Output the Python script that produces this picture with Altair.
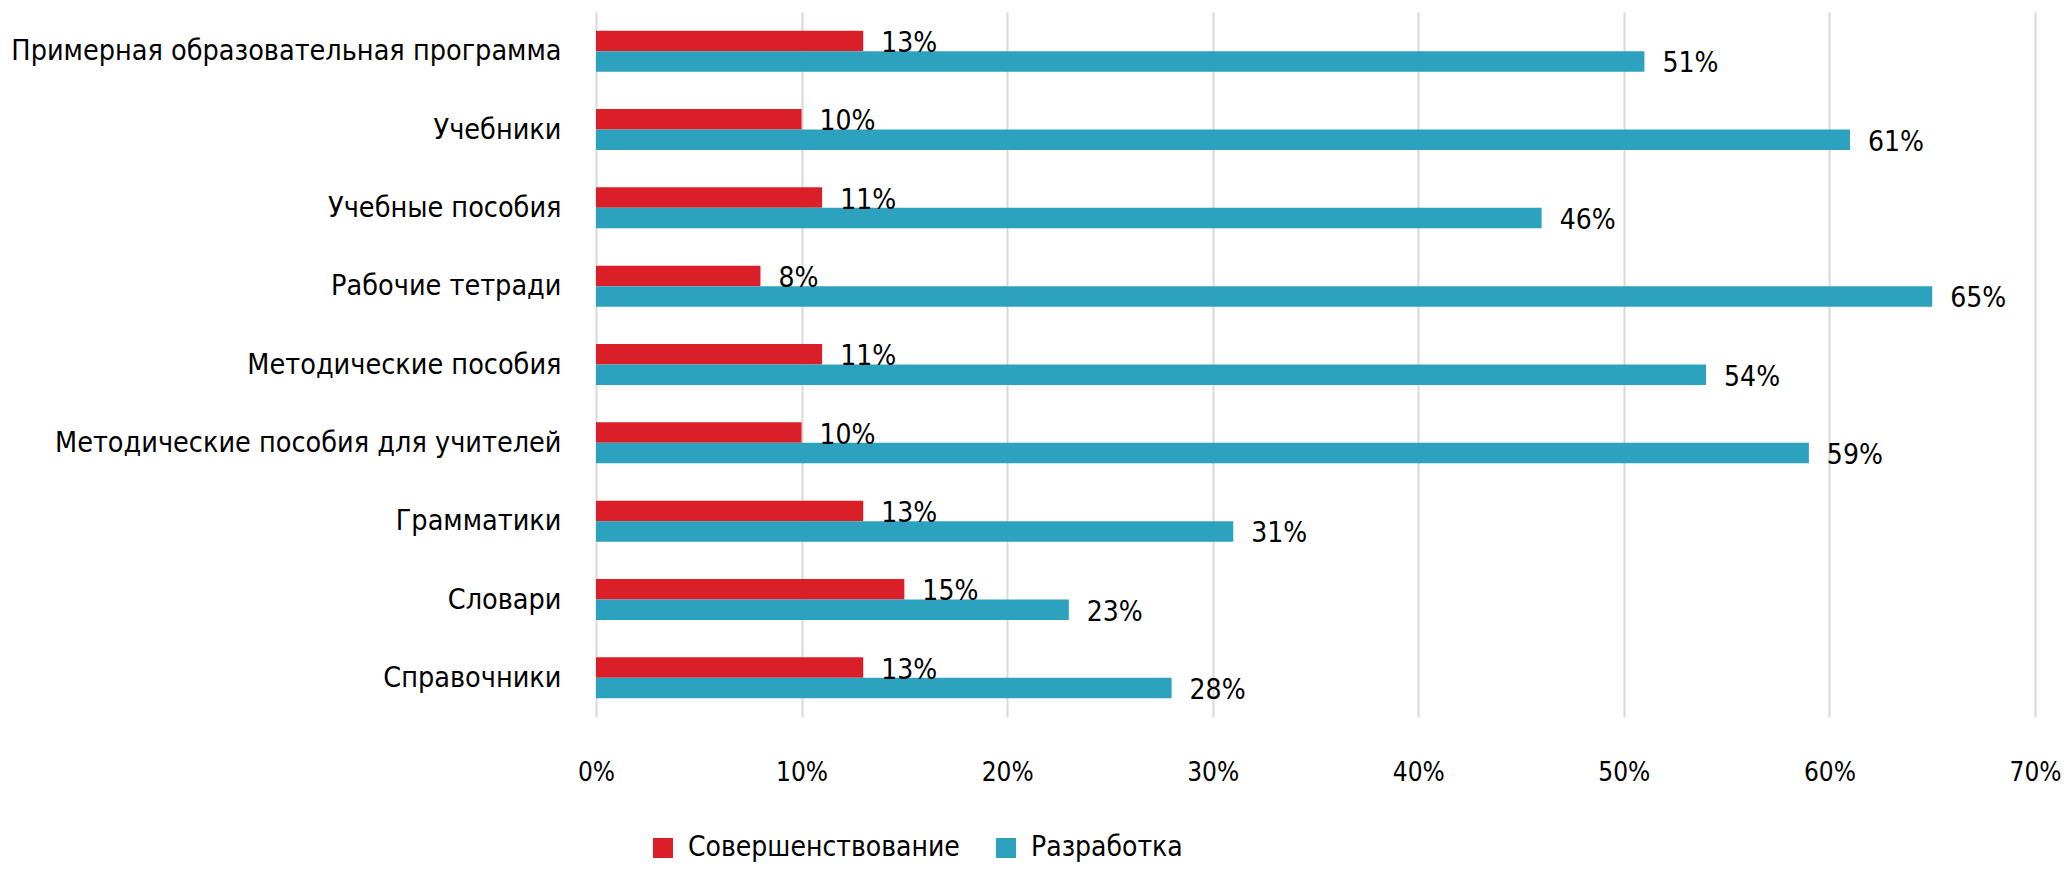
import altair as alt
import pandas as pd

categories = [
    "Примерная образовательная программа",
    "Учебники",
    "Учебные пособия",
    "Рабочие тетради",
    "Методические пособия",
    "Методические пособия для учителей",
    "Грамматики",
    "Словари",
    "Справочники",
]
series = ["Совершенствование", "Разработка"]
improve = [13, 10, 11, 8, 11, 10, 13, 15, 13]
develop = [51, 61, 46, 65, 54, 59, 31, 23, 28]
colors = ["#DA1F28", "#2DA2BF"]

rows = []
for c, a, b in zip(categories, improve, develop):
    rows.append({"cat": c, "series": series[0], "value": a / 100, "label": f"{a}%"})
    rows.append({"cat": c, "series": series[1], "value": b / 100, "label": f"{b}%"})
df = pd.DataFrame(rows)

FONT = "DejaVu Sans Condensed"

y_enc = alt.Y(
    "cat:N",
    sort=categories,
    scale=alt.Scale(paddingInner=0.476, paddingOuter=0.238),
    axis=alt.Axis(
        title=None, ticks=False, domain=False, labelFontSize=28.5,
        labelPadding=35, labelLimit=1000, labelColor="#000000", labelFont=FONT,
    ),
)
yoff = alt.YOffset("series:N", sort=series, scale=alt.Scale(paddingInner=0, paddingOuter=0))
x_enc = alt.X(
    "value:Q",
    scale=alt.Scale(domain=[0, 0.7]),
    axis=alt.Axis(
        title=None, format=".0%", values=[0, 0.1, 0.2, 0.3, 0.4, 0.5, 0.6, 0.7],
        ticks=False, domain=False, grid=True, gridColor="#D9D9D9", gridWidth=2,
        labelFontSize=26, labelPadding=42, labelColor="#000000", labelFont=FONT,
        labelFlush=False,
    ),
)

bars = alt.Chart(df).mark_bar().encode(
    y=y_enc,
    yOffset=yoff,
    x=x_enc,
    color=alt.Color(
        "series:N",
        sort=series,
        scale=alt.Scale(domain=series, range=colors),
        legend=alt.Legend(
            title=None, orient="none", legendX=53, legendY=822, direction="horizontal",
            symbolType="square", symbolSize=400, symbolStrokeWidth=0, labelFontSize=28,
            labelFont=FONT, labelColor="#000000", labelOffset=11, columnPadding=32,
            labelLimit=1000,
        ),
    ),
)

labels = alt.Chart(df).mark_text(
    align="left", baseline="middle", dx=18, dy=3, fontSize=28, font=FONT, color="#000000"
).encode(
    y=alt.Y("cat:N", sort=categories),
    yOffset=alt.YOffset("series:N", sort=series),
    x="value:Q",
    text="label:N",
)

chart = (
    alt.layer(bars, labels)
    .properties(
        width=1439,
        height=705,
        autosize=alt.AutoSizeParams(type="none"),
        padding={"left": 588, "top": 4, "right": 27, "bottom": 150},
    )
    .configure(background="white")
    .configure_view(strokeWidth=0, stroke="transparent")
)

chart.save("out.html", embed_options={"renderer": "svg", "actions": False})
